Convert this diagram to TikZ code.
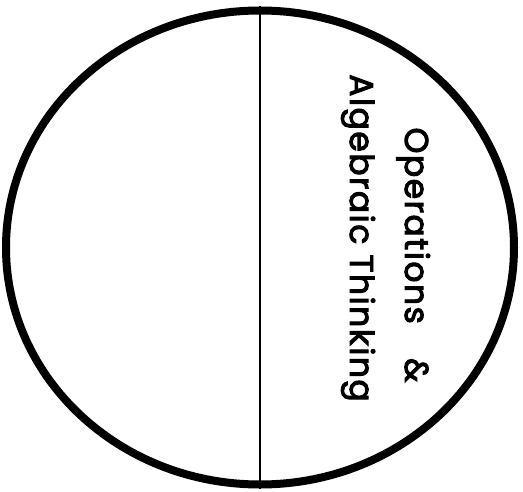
\documentclass[tikz,border=0pt]{standalone}
\usepackage{fontspec}
\newfontfamily\titlefont{Poppins}[FakeBold=3, LetterSpace=4.5]
\usetikzlibrary{shapes.geometric}

\begin{document}
\begin{tikzpicture}[
    x=1pt, y=1pt,
    disc/.style={ellipse, draw=black, line width=8pt, inner sep=0pt,
      minimum width=508pt, minimum height=474pt},
    divider/.style={draw=black, line width=1.5pt},
    title/.style={font=\titlefont\fontsize{33}{38}\selectfont, rotate=-90, anchor=base, inner sep=0pt},
  ]

  % Page frame: 523 x 491
  \useasboundingbox (0, 0) rectangle (523, 491);

  % --- Outer circle ---
  \node[disc] (circle) at (260, 243.5) {};

  % --- Vertical split ---
  \draw[divider] (circle.north) -- (circle.south);

  % --- Label, read top to bottom ---
  \node[title] (line1) at (405, 236) {Operations\hspace{24pt} \&};
  \node[title] (line2) at (350, 253) {Algebraic Thinking};

\end{tikzpicture}
\end{document}
